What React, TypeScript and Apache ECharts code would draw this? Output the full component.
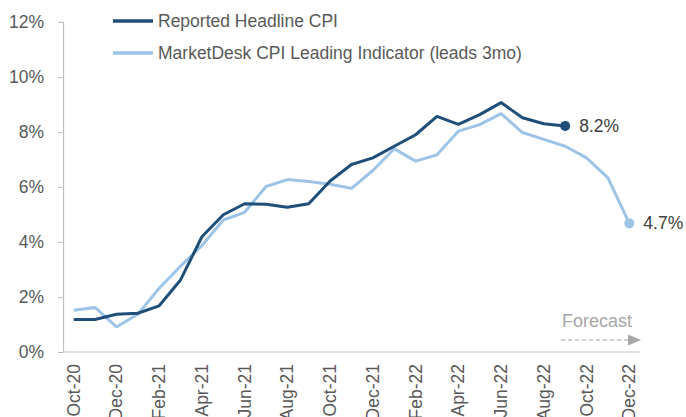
import React, { useEffect, useRef } from "react";
import * as echarts from "echarts";

const months = [
  "Oct-20", "Nov-20", "Dec-20", "Jan-21", "Feb-21", "Mar-21", "Apr-21", "May-21", "Jun-21",
  "Jul-21", "Aug-21", "Sep-21", "Oct-21", "Nov-21", "Dec-21", "Jan-22", "Feb-22", "Mar-22",
  "Apr-22", "May-22", "Jun-22", "Jul-22", "Aug-22", "Sep-22", "Oct-22", "Nov-22", "Dec-22",
];

const reportedCPI: (number | null)[] = [
  1.18, 1.18, 1.37, 1.41, 1.68, 2.62, 4.19, 4.99, 5.39, 5.37, 5.26, 5.39, 6.22, 6.82, 7.06,
  7.48, 7.9, 8.57, 8.28, 8.63, 9.07, 8.52, 8.3, 8.22, null, null, null,
];

const leadingIndicator: number[] = [
  1.52, 1.62, 0.91, 1.37, 2.32, 3.12, 3.87, 4.8, 5.08, 6.02, 6.27, 6.2, 6.1, 5.95, 6.6, 7.39,
  6.94, 7.17, 8.03, 8.27, 8.67, 7.98, 7.73, 7.48, 7.06, 6.33, 4.68,
];

const yTicks = { min: 0, max: 12, interval: 2 };

const FONT = "'Liberation Sans', Arial, sans-serif";
const DARK = "#1f4e79";
const LIGHT = "#9dc3e6";
const TEXT = "#595959";

function endPoint(values: (number | null)[], color: string, labelText: string) {
  let last = -1;
  values.forEach((v, i) => {
    if (v !== null) last = i;
  });
  return values.map((v, i) =>
    i === last
      ? {
          value: v,
          symbol: "circle",
          symbolSize: 10,
          itemStyle: { color },
          label: {
            show: true,
            position: "right",
            distance: 9,
            formatter: labelText,
            fontSize: 17.5,
            fontFamily: FONT,
            color: "#404040",
          },
        }
      : { value: v, symbol: "none" }
  );
}

export default function App() {
  const ref = useRef<HTMLDivElement>(null);

  useEffect(() => {
    if (!ref.current) return;
    const chart = echarts.init(ref.current, undefined, { renderer: "svg" });
    const lastLead = leadingIndicator[leadingIndicator.length - 1];
    const lastRep = reportedCPI.filter((v) => v !== null).slice(-1)[0] as number;
    chart.setOption({
      animation: false,
      textStyle: { fontFamily: FONT },
      grid: {
        left: 63,
        right: 46,
        top: 22,
        bottom: 65,
        containLabel: false,
        outerBoundsMode: "none",
      },
      legend: {
        orient: "vertical",
        left: 108,
        top: 7,
        icon: "rect",
        itemWidth: 40,
        itemHeight: 3.5,
        itemGap: 14,
        textStyle: { fontSize: 17.5, color: TEXT, fontFamily: FONT },
        data: ["Reported Headline CPI", "MarketDesk CPI Leading Indicator (leads 3mo)"],
      },
      xAxis: {
        type: "category",
        data: months,
        boundaryGap: true,
        axisLine: { show: true, lineStyle: { color: "#d9d9d9", width: 1.5 } },
        axisTick: { show: false },
        axisLabel: {
          interval: 1,
          rotate: 90,
          fontSize: 17.5,
          color: TEXT,
          fontFamily: FONT,
          margin: 12,
        },
      },
      yAxis: {
        type: "value",
        min: yTicks.min,
        max: yTicks.max,
        interval: yTicks.interval,
        axisLine: { show: true, lineStyle: { color: "#bfbfbf", width: 1.2 } },
        axisTick: { show: true, length: 5, lineStyle: { color: "#bfbfbf" } },
        splitLine: { show: false },
        axisLabel: {
          formatter: "{value}%",
          fontSize: 17.5,
          color: TEXT,
          fontFamily: FONT,
          margin: 19,
        },
      },
      series: [
        {
          name: "Reported Headline CPI",
          type: "line",
          data: endPoint(reportedCPI, DARK, `${lastRep.toFixed(1)}%`),
          lineStyle: { color: DARK, width: 3 },
          itemStyle: { color: DARK },
          showSymbol: true,
          connectNulls: false,
          z: 3,
        },
        {
          name: "MarketDesk CPI Leading Indicator (leads 3mo)",
          type: "line",
          data: endPoint(leadingIndicator, LIGHT, `${lastLead.toFixed(1)}%`),
          lineStyle: { color: LIGHT, width: 3 },
          itemStyle: { color: LIGHT },
          showSymbol: true,
          z: 2,
        },
      ],
      graphic: [
        {
          type: "text",
          left: 562,
          top: 312,
          style: { text: "Forecast", fontSize: 18, fill: "#a6a6a6", fontFamily: FONT },
        },
        {
          type: "line",
          shape: { x1: 561, y1: 340, x2: 629, y2: 340 },
          style: { stroke: "#a6a6a6", lineWidth: 1.2, lineDash: [4, 3] },
        },
        {
          type: "polygon",
          shape: { points: [[628, 334.5], [641, 340], [628, 345.5]] },
          style: { fill: "#a6a6a6" },
        },
      ],
    });
    return () => chart.dispose();
  }, []);

  return (
    <div
      ref={ref}
      style={{ position: "fixed", left: 0, top: 0, width: 686, height: 417, background: "#fff" }}
    />
  );
}
